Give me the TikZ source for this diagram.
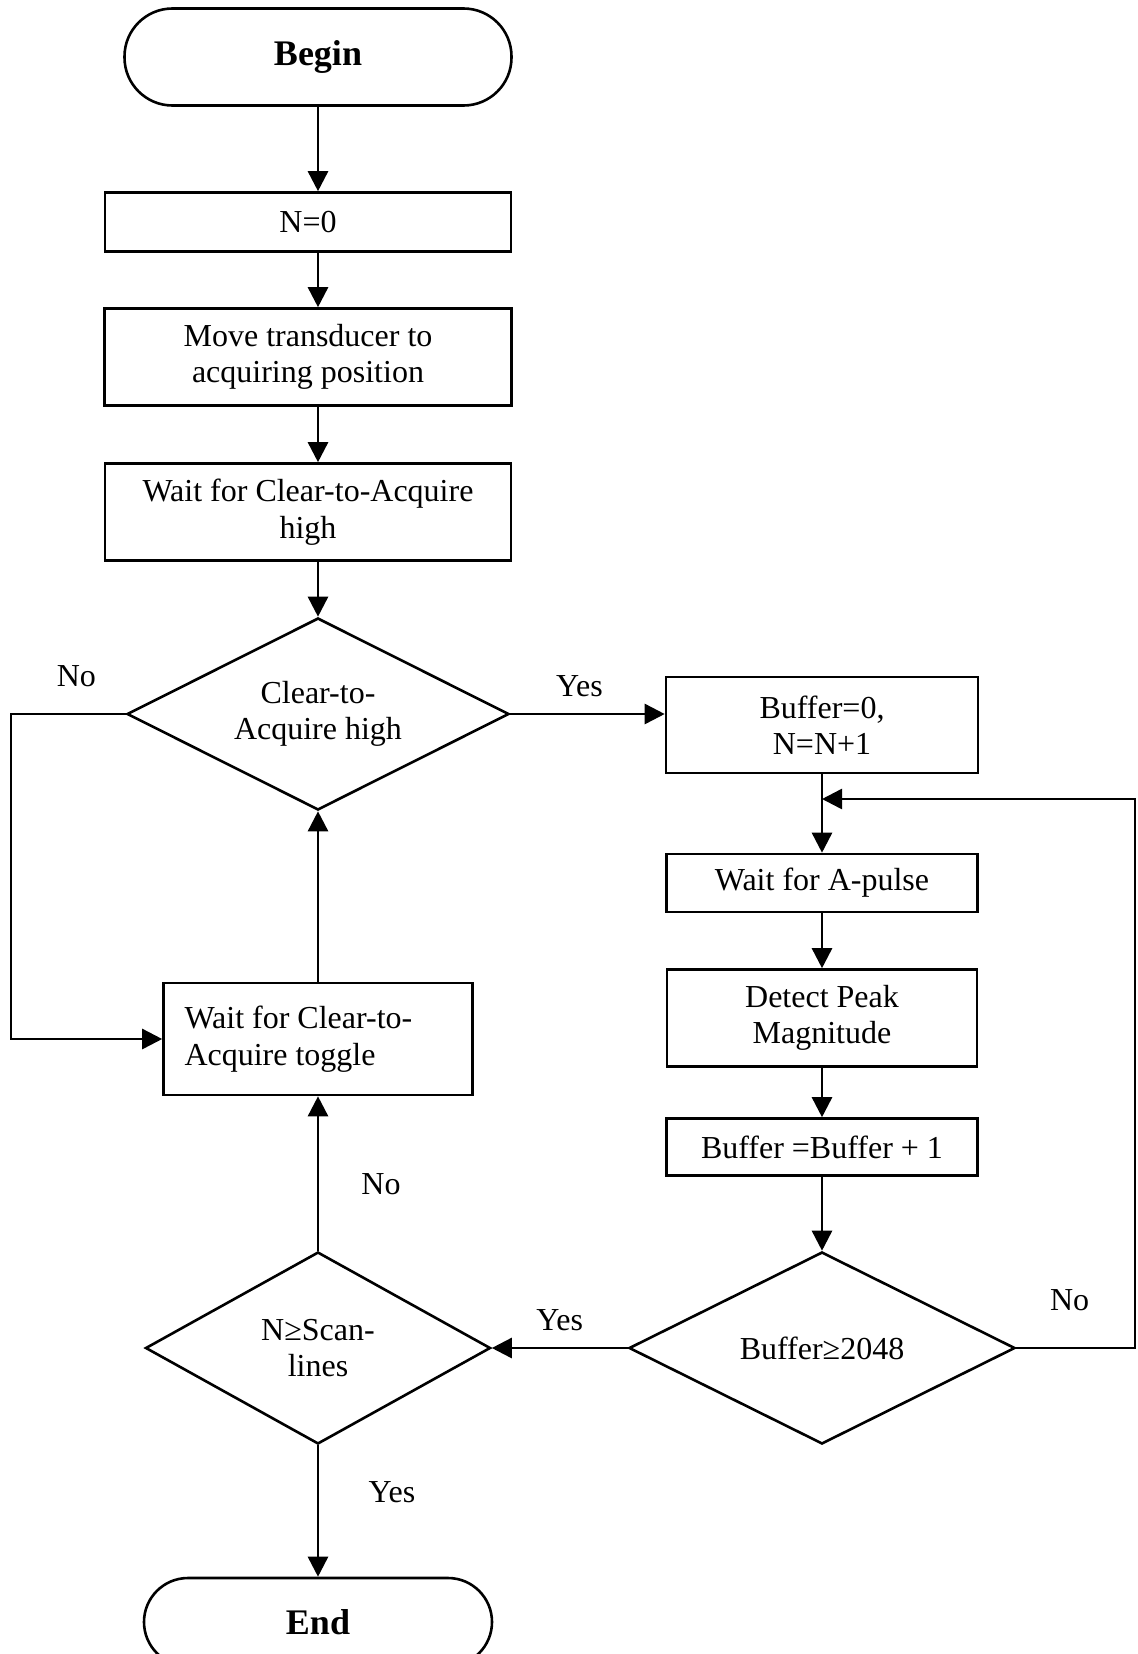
\documentclass[tikz,border=0pt]{standalone}
\usepackage{fontspec}
\setmainfont{Liberation Serif}
\usetikzlibrary{arrows.meta,shapes.geometric}

\tikzset{
    block/.style={draw, rectangle, line width=1.3pt, align=center, inner sep=1pt},
    decision/.style={draw, diamond, aspect=2, line width=1.3pt, align=center, inner sep=0pt},
    terminal/.style={draw, rectangle, rounded corners=24pt, line width=1.3pt, font=\fontsize{18}{20}\selectfont\bfseries},
    branch/.style={draw=none, fill=none}
}

\begin{document}
\begin{tikzpicture}[->,>={Triangle[length=10pt,width=10pt]},line width=1.3pt,font=\fontsize{16}{18.2}\selectfont]
    \useasboundingbox (0,0) rectangle (568.5pt,-827pt);

        % left column
        \node[terminal, minimum width=193.5pt, minimum height=48.5pt] (begin) at (159pt,-28.5pt) {Begin};
        \node[block, minimum width=203pt, minimum height=29.5pt] (n0) [below of=begin, node distance=82.5pt, xshift=-5pt] {N=0};
        \node[block, minimum width=203.5pt, minimum height=48.5pt] (move) [below of=n0, node distance=67.5pt] {Move transducer to\\acquiring position};
        \node[block, minimum width=203pt, minimum height=48.5pt] (waithigh) [below of=move, node distance=77.5pt] {Wait for Clear-to-Acquire\\high};
        \node[decision, minimum width=191pt, minimum height=96pt] (ctahigh) [below of=waithigh, node distance=101pt, xshift=5pt] {Clear-to-\\Acquire high};
        \node[block, minimum width=154.5pt, minimum height=56pt, text width=133.5pt, inner xsep=10.5pt, align=flush left] (toggle) [below of=ctahigh, node distance=162.5pt] {Wait for Clear-to-\\Acquire toggle};
        \node[decision, minimum width=172.5pt, minimum height=96pt] (scanlines) [below of=toggle, node distance=154.5pt] {N≥Scan-\\lines};
        \node[terminal, rounded corners=22pt, minimum width=174pt, minimum height=44pt] (end) [below of=scanlines, node distance=137pt] {End};

        % right column
        \node[block, minimum width=156pt, minimum height=48pt] (bufzero) [right of=ctahigh, node distance=252pt, yshift=-5.5pt] {Buffer=0,\\N=N+1};
        \node[block, minimum width=155.5pt, minimum height=29pt] (apulse) [below of=bufzero, node distance=79pt] {Wait for A-pulse};
        \node[block, minimum width=155pt, minimum height=48.5pt] (peak) [below of=apulse, node distance=67.5pt] {Detect Peak\\Magnitude};
        \node[block, minimum width=155.5pt, minimum height=28.5pt] (bufinc) [below of=peak, node distance=64.5pt] {Buffer =Buffer + 1};
        \node[decision, minimum width=193pt, minimum height=96pt] (bufful) [below of=bufinc, node distance=100.5pt] {Buffer≥2048};

        \coordinate (spine) at (begin.south);
        \coordinate[below of=bufzero, node distance=37pt] (merge);
        \coordinate (leftrail) at (5.5pt,0);
        \coordinate (rightrail) at (567.5pt,0);

        \path (begin)    edge (spine |- n0.north)
              (spine |- n0.south)   edge (spine |- move.north)
              (spine |- move.south) edge (spine |- waithigh.north)
              (spine |- waithigh.south) edge (ctahigh)
              (toggle)   edge (ctahigh)
              (bufzero)  edge (apulse)
              (apulse)   edge (peak)
              (peak)     edge (bufinc)
              (bufinc)   edge (bufful)
              (bufful)   edge node[branch, midway, yshift=14pt] {Yes} (scanlines)
              (scanlines) edge node[branch, pos=0.43, xshift=31.5pt] {No} (toggle)
                          edge node[branch, pos=0.36, xshift=37pt] {Yes} (end);

        \draw (ctahigh.east) -- node[branch, midway, yshift=14pt, xshift=-4pt] {Yes} (ctahigh.east -| bufzero.west);
        \draw (ctahigh.west) -- node[branch, midway, yshift=19pt, xshift=4pt] {No} (ctahigh.west -| leftrail) |- (toggle.west);
        \draw (bufful.east) -- node[branch, midway, yshift=24pt, xshift=-3pt] {No} (bufful.east -| rightrail) |- (merge);
\end{tikzpicture}
\end{document}
